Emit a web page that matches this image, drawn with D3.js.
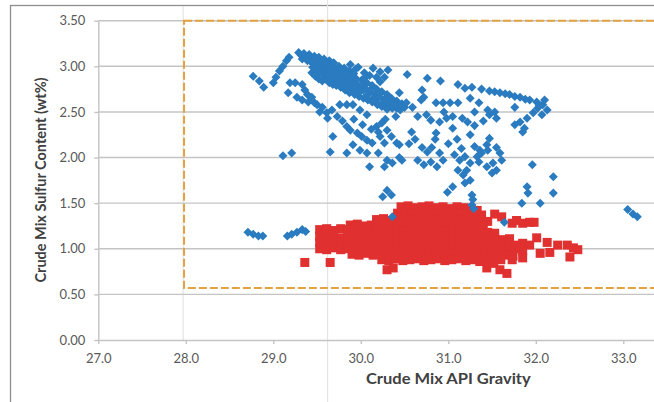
<!DOCTYPE html>
<html>
<head>
<meta charset="utf-8">
<script src="https://cdn.jsdelivr.net/npm/d3@7"></script>
<style>
  body { margin: 0; background: #fff; }
  svg { display: block; }
  text { font-family: Lato, "Open Sans", sans-serif; }
</style>
</head>
<body>
<svg id="chart" width="654" height="402"></svg>
<script>
// Axis ticks
const apiTicks = [27, 28, 29, 30, 31, 32, 33];
const sulfurTicks = [0, 0.5, 1, 1.5, 2, 2.5, 3, 3.5];

// Highlighted operating window (API gravity / sulfur)
const windowApi = [27.98, 34];
const windowSulfur = [0.57, 3.5];

// Crude mixes, set A (diamonds): [API gravity, sulfur wt%]
const crudeSetA = [
  [28.71,1.18],[28.77,1.16],[28.83,1.14],[28.88,1.14],[29.16,1.14],[29.21,1.16],[29.27,1.18],[29.33,1.21],[29.37,1.19],
  [29.11,2.02],[29.21,2.05],
  [28.77,2.89],[28.84,2.84],[28.89,2.77],[29.00,2.82],[29.03,2.88],[29.07,2.95],[29.11,3.00],[29.15,3.06],[29.18,3.10],
  [29.29,3.15],[29.35,3.14],[29.41,3.13],[29.47,3.11],[29.52,3.10],[29.58,3.08],[29.64,3.06],[29.69,3.04],[29.75,3.00],[29.81,2.98],[29.87,2.95],[29.92,2.92],
  [29.33,3.08],[29.39,3.06],[29.44,3.04],[29.50,3.03],[29.56,3.00],[29.61,2.97],[29.67,2.95],[29.73,2.92],[29.78,2.88],[29.84,2.85],[29.90,2.83],[29.96,2.80],
  [29.48,2.96],[29.53,2.93],[29.59,2.89],[29.65,2.87],[29.70,2.84],[29.76,2.82],[29.82,2.79],[29.88,2.76],[29.93,2.74],[29.99,2.72],
  [30.01,2.85],[30.07,2.82],[30.13,2.79],[30.18,2.75],[30.24,2.72],[30.30,2.69],[30.35,2.65],[30.41,2.62],[30.47,2.59],
  [30.08,2.69],[30.14,2.65],[30.18,2.63],[30.25,2.60],[30.31,2.57],[30.36,2.54],[30.41,2.54],
  [29.88,3.02],[29.97,2.99],[30.14,2.98],[30.22,2.94],[30.31,2.96],[30.22,2.83],[30.53,2.91],
  [29.32,3.12],[29.38,3.10],[29.44,3.08],[29.50,3.06],[29.55,3.05],[29.61,3.02],[29.66,3.00],[29.72,2.97],[29.78,2.94],[29.84,2.91],
  [29.90,2.88],[29.95,2.86],[30.02,2.79],[30.05,2.76],[30.10,2.73],[30.16,2.70],[30.21,2.67],[30.27,2.64],[30.33,2.61],[30.38,2.59],
  [30.44,2.56],[29.45,2.99],[29.51,2.98],[29.57,2.95],[29.63,2.92],[29.69,2.90],[29.75,2.86],[29.80,2.84],[29.86,2.81],[29.91,2.78],
  [29.97,2.76],[30.03,2.74],[29.94,2.97],[30.04,2.93],[30.10,2.90],[30.18,2.88],[30.27,2.88],[30.05,2.88],
  [29.44,2.93],[29.48,2.89],[29.52,2.86],[29.56,2.84],[29.60,2.86],[29.64,2.82],[29.58,2.91],[29.68,2.80],[29.72,2.79],[29.77,2.77],
  [29.82,2.74],[29.87,2.71],[29.93,2.69],[29.98,2.67],[30.03,2.65],[30.08,2.63],[30.13,2.61],[30.19,2.58],[30.24,2.56],[30.30,2.53],
  [30.45,2.52],[30.50,2.55],
  [30.76,2.87],[30.91,2.84],[31.11,2.80],[31.19,2.76],[31.27,2.77],[31.47,2.73],[31.59,2.71],[31.70,2.69],[31.82,2.66],[31.93,2.63],
  [32.01,2.61],[32.08,2.58],[32.13,2.52],[32.07,2.47],[31.97,2.49],[31.90,2.43],[31.82,2.39],[31.76,2.36],[31.87,2.32],[31.85,2.28],
  [31.76,2.55],[32.02,2.54],[32.10,2.63],[31.38,2.75],[31.53,2.72],[31.65,2.70],[31.76,2.67],[31.88,2.64],[32.04,2.57],
  [31.45,2.52],[31.53,2.50],[31.47,2.47],[31.55,2.43],
  [30.86,2.60],[30.94,2.60],[31.02,2.60],[31.11,2.60],
  [30.70,2.74],[30.72,2.66],[30.69,2.63],[30.44,2.71],[30.52,2.60],[30.59,2.55],
  [30.75,2.47],[30.80,2.41],[30.90,2.39],[30.98,2.43],[31.05,2.32],[31.16,2.43],[31.22,2.39],[30.58,2.28],[30.86,2.27],
  [31.25,2.25],[31.47,2.21],[31.44,2.14],[31.36,2.08],
  [30.95,2.50],[31.05,2.45],[31.30,2.50],[31.35,2.60],[31.25,2.65],[31.40,2.40],[31.30,2.35],[30.65,2.45],[30.40,2.45],
  [30.70,2.11],[30.76,2.06],[30.81,2.11],[30.65,1.97],[30.72,1.92],[30.80,1.95],[30.87,1.90],[30.94,1.97],[31.07,2.03],
  [31.13,1.97],[31.19,2.01],[31.25,1.94],[31.33,2.01],[31.38,2.05],[31.45,2.08],[31.55,2.11],[31.59,2.05],[31.61,1.97],
  [31.51,1.94],[31.44,1.90],[31.55,1.86],[31.50,1.83],[31.21,1.86],[31.17,1.81],[31.11,1.86],[31.25,1.75],[31.19,1.72],
  [31.05,1.68],[30.99,1.62],[31.27,1.59],[31.96,1.92],[32.20,1.79],[31.90,1.68],[31.91,1.61],[32.20,1.61],[30.44,2.14],[30.47,1.97],
  [30.55,2.15],[30.62,2.20],[30.85,2.20],[31.00,2.15],[31.10,2.20],[31.15,2.10],[31.30,2.12],[30.90,2.05],[31.35,1.95],
  [31.28,1.54],[31.27,1.48],[31.29,1.44],[31.64,1.29],[30.36,1.35],[31.84,1.50],[32.05,1.50],
  [33.05,1.43],[33.11,1.38],[33.16,1.35],
  [29.19,2.82],[29.25,2.82],[29.33,2.80],[29.17,2.71],[29.27,2.66],[29.33,2.63],[29.40,2.61],[29.39,2.69],[29.50,2.58],
  [29.53,2.50],[29.61,2.49],[29.67,2.52],[29.73,2.45],[29.76,2.58],[29.84,2.58],[29.91,2.58],[29.99,2.52],[30.07,2.47],
  [29.36,2.74],[29.44,2.66],[29.47,2.60],[29.56,2.55],[29.62,2.43],[29.79,2.40],[29.92,2.42],[30.02,2.36],[30.12,2.31],
  [30.20,2.28],[30.28,2.42],
  [29.84,2.34],[29.88,2.30],[29.96,2.27],[30.01,2.23],[30.07,2.19],[30.13,2.16],[30.18,2.34],[30.24,2.38],[30.30,2.30],
  [30.35,2.23],[30.41,2.16],[30.27,2.16],[30.22,2.23],
  [29.68,2.23],[29.65,2.06],[29.84,2.05],[29.91,2.14],[29.99,2.08],[30.07,2.05],[30.30,1.97],[30.27,1.90],[30.36,1.94],
  [30.44,2.00],[30.10,1.90],[30.20,2.05],
  [30.30,1.64],[30.35,1.59],[30.25,1.57]
];

// Crude mixes, set B (squares): [API gravity, sulfur wt%]
const crudeSetB = [
  [30.46,1.46],[30.54,1.47],[30.62,1.45],[30.70,1.46],[30.78,1.47],[30.86,1.45],[30.94,1.46],[31.02,1.44],[31.10,1.46],[31.18,1.45],[31.26,1.44],[31.33,1.42],
  [30.42,1.39],[30.50,1.40],[30.58,1.38],[30.66,1.39],[30.74,1.40],[30.82,1.38],[30.90,1.39],[30.98,1.40],[31.06,1.38],[31.14,1.39],
  [31.22,1.40],[31.30,1.38],[31.38,1.37],[31.53,1.38],[31.61,1.35],
  [30.18,1.32],[30.26,1.33],[30.34,1.31],[30.42,1.32],[30.50,1.33],[30.58,1.31],[30.66,1.32],[30.74,1.33],[30.82,1.31],[30.90,1.32],
  [30.98,1.33],[31.06,1.31],[31.14,1.32],[31.22,1.33],[31.30,1.31],[31.38,1.32],[31.45,1.30],
  [31.73,1.28],[31.78,1.31],[31.85,1.28],[31.93,1.29],[31.98,1.29],
  [29.88,1.26],[29.96,1.27],[30.04,1.25],[30.12,1.26],[30.20,1.27],[30.28,1.25],[30.36,1.26],[30.44,1.27],[30.52,1.25],[30.60,1.26],
  [30.68,1.25],[30.76,1.27],[30.84,1.26],[30.92,1.25],[31.00,1.26],[31.08,1.27],[31.16,1.25],[31.24,1.26],[31.32,1.25],[31.40,1.24],
  [29.53,1.21],[29.61,1.22],[29.69,1.20],[29.77,1.22],[29.85,1.21],[29.93,1.19],[30.01,1.20],[30.09,1.21],[30.17,1.19],[30.25,1.20],
  [30.33,1.21],[30.41,1.19],[30.49,1.20],[30.57,1.21],[30.65,1.19],[30.73,1.20],[30.81,1.21],[30.89,1.19],[30.97,1.20],[31.05,1.21],
  [31.13,1.19],[31.21,1.20],[31.29,1.21],[31.37,1.19],[31.45,1.18],[31.53,1.17],
  [29.53,1.14],[29.61,1.13],[29.69,1.15],[29.77,1.12],[29.85,1.14],[29.93,1.13],[30.01,1.14],[30.09,1.12],[30.17,1.13],[30.25,1.14],
  [30.33,1.12],[30.41,1.13],[30.49,1.14],[30.57,1.12],[30.65,1.13],[30.73,1.14],[30.81,1.12],[30.89,1.13],[30.97,1.14],[31.05,1.12],
  [31.13,1.13],[31.21,1.14],[31.29,1.12],[31.37,1.13],[31.45,1.11],[31.53,1.12],[31.61,1.10],[31.70,1.11],[32.01,1.12],
  [29.53,1.07],[29.61,1.06],[29.69,1.08],[29.77,1.06],[29.85,1.07],[29.93,1.08],[30.01,1.06],[30.09,1.07],[30.17,1.08],[30.25,1.06],
  [30.33,1.07],[30.41,1.08],[30.49,1.06],[30.57,1.07],[30.65,1.08],[30.73,1.06],[30.81,1.07],[30.89,1.08],[30.97,1.06],[31.05,1.07],
  [31.13,1.08],[31.21,1.06],[31.29,1.07],[31.37,1.05],[31.45,1.06],[31.53,1.07],[31.61,1.05],[31.69,1.06],[31.77,1.04],[31.85,1.06],
  [31.93,1.04],[32.13,1.07],[32.25,1.04],[32.36,1.04],
  [29.53,1.00],[29.61,0.99],[29.69,1.01],[29.77,0.99],[29.85,1.00],[29.93,1.01],[30.01,0.99],[30.09,1.00],[30.17,1.01],[30.25,0.99],
  [30.33,1.00],[30.41,1.01],[30.49,0.99],[30.57,1.00],[30.65,1.01],[30.73,0.99],[30.81,1.00],[30.89,1.01],[30.97,0.99],[31.05,1.00],
  [31.13,1.01],[31.21,0.99],[31.29,1.00],[31.37,0.98],[31.45,0.99],[31.53,1.00],[31.61,0.98],[31.69,0.99],[31.77,1.00],[31.85,0.98],
  [32.05,0.95],[32.16,0.96],[32.43,1.01],[32.48,0.99],
  [29.90,0.94],[29.98,0.93],[30.06,0.95],[30.14,0.93],[30.22,0.94],[30.30,0.95],[30.38,0.93],[30.46,0.94],[30.54,0.95],[30.62,0.93],
  [30.70,0.94],[30.78,0.95],[30.86,0.93],[30.94,0.94],[31.02,0.95],[31.10,0.93],[31.18,0.94],[31.26,0.95],[31.34,0.93],[31.42,0.94],
  [31.50,0.92],[31.58,0.94],[31.66,0.93],[31.74,0.92],[31.85,0.90],[32.39,0.91],
  [30.24,0.88],[30.32,0.87],[30.40,0.89],[30.48,0.87],[30.56,0.88],[30.64,0.89],[30.72,0.87],[30.80,0.88],[30.88,0.89],[30.96,0.87],
  [31.04,0.88],[31.12,0.89],[31.20,0.87],[31.28,0.88],[31.36,0.86],[31.44,0.87],[31.52,0.86],[31.60,0.88],[31.73,0.88],
  [29.36,0.85],[29.65,0.85],[30.30,0.77],[30.37,0.79],[31.44,0.79],[31.51,0.84],[31.59,0.77],[31.67,0.73]
];

const W = 654, H = 402;
const svg = d3.select("#chart");

const x = d3.scaleLinear().domain([27, 34]).range([98.3, 710.8]);
const y = d3.scaleLinear().domain([0, 3.5]).range([340, 20.7]);

// chart area frame
svg.append("rect")
  .attr("x", 10.5).attr("y", 5.5)
  .attr("width", W + 20).attr("height", H + 20)
  .attr("fill", "#fff")
  .attr("stroke", "#8e8e8e").attr("stroke-width", 1.3);

// faint vertical rules
svg.append("line")
  .attr("x1", x(29.62)).attr("x2", x(29.62))
  .attr("y1", 0).attr("y2", H)
  .attr("stroke", "#e4e4e4").attr("stroke-width", 1.2);
svg.append("line")
  .attr("x1", x(27.97)).attr("x2", x(27.97))
  .attr("y1", 6).attr("y2", y(0))
  .attr("stroke", "#e4e4e4").attr("stroke-width", 1.2);

// horizontal gridlines
svg.append("g")
  .selectAll("line")
  .data(sulfurTicks.filter(d => d > 0))
  .join("line")
  .attr("x1", x(27)).attr("x2", W)
  .attr("y1", d => y(d)).attr("y2", d => y(d))
  .attr("stroke", "#c4c4c4").attr("stroke-width", 1.4);

// y axis
const yAxis = svg.append("g")
  .attr("transform", `translate(${x(27)},0)`)
  .call(d3.axisLeft(y).tickValues(sulfurTicks).tickFormat(d3.format(".2f"))
    .tickSize(4).tickSizeOuter(0).tickPadding(9));
yAxis.select(".domain").attr("stroke", "#c4c4c4").attr("stroke-width", 1.4);
yAxis.selectAll(".tick line").attr("stroke", "#c4c4c4").attr("stroke-width", 1.4);
yAxis.selectAll("text").attr("fill", "#595959").attr("font-size", 13);

// x axis
const xAxis = svg.append("g")
  .attr("transform", `translate(0,${y(0)})`)
  .call(d3.axisBottom(x).tickValues(apiTicks).tickFormat(d3.format(".1f"))
    .tickSize(4).tickSizeOuter(0).tickPadding(10));
xAxis.select(".domain").attr("stroke", "#c4c4c4").attr("stroke-width", 1.4);
xAxis.selectAll(".tick line").attr("stroke", "#c4c4c4").attr("stroke-width", 1.4);
xAxis.selectAll("text").attr("fill", "#595959").attr("font-size", 13);

// operating window
svg.append("rect")
  .attr("x", x(windowApi[0])).attr("y", y(windowSulfur[1]))
  .attr("width", x(windowApi[1]) - x(windowApi[0]))
  .attr("height", y(windowSulfur[0]) - y(windowSulfur[1]))
  .attr("fill", "none")
  .attr("stroke", "#e3a140").attr("stroke-width", 2)
  .attr("stroke-dasharray", "8,3");

// set B squares
const sq = 9;
svg.append("g")
  .selectAll("rect")
  .data(crudeSetB)
  .join("rect")
  .attr("x", d => x(d[0]) - sq / 2)
  .attr("y", d => y(d[1]) - sq / 2)
  .attr("width", sq).attr("height", sq)
  .attr("fill", "#e0302f");

// set A diamonds
const diamond = d3.symbol().type(d3.symbolDiamond2).size(52);
svg.append("g")
  .selectAll("path")
  .data(crudeSetA)
  .join("path")
  .attr("transform", d => `translate(${x(d[0])},${y(d[1])})`)
  .attr("d", diamond)
  .attr("fill", "#2a7bbf");

// axis titles
svg.append("text")
  .attr("transform", `translate(${x(31)},384) scale(1.14,1)`)
  .attr("text-anchor", "middle")
  .attr("font-size", 14.5).attr("font-weight", "bold")
  .attr("fill", "#404040")
  .text("Crude Mix API Gravity");

svg.append("text")
  .attr("transform", "translate(46,180) rotate(-90)")
  .attr("text-anchor", "middle")
  .attr("font-size", 14.5).attr("font-weight", "bold")
  .attr("fill", "#404040")
  .text("Crude Mix Sulfur Content (wt%)");
</script>
</body>
</html>
